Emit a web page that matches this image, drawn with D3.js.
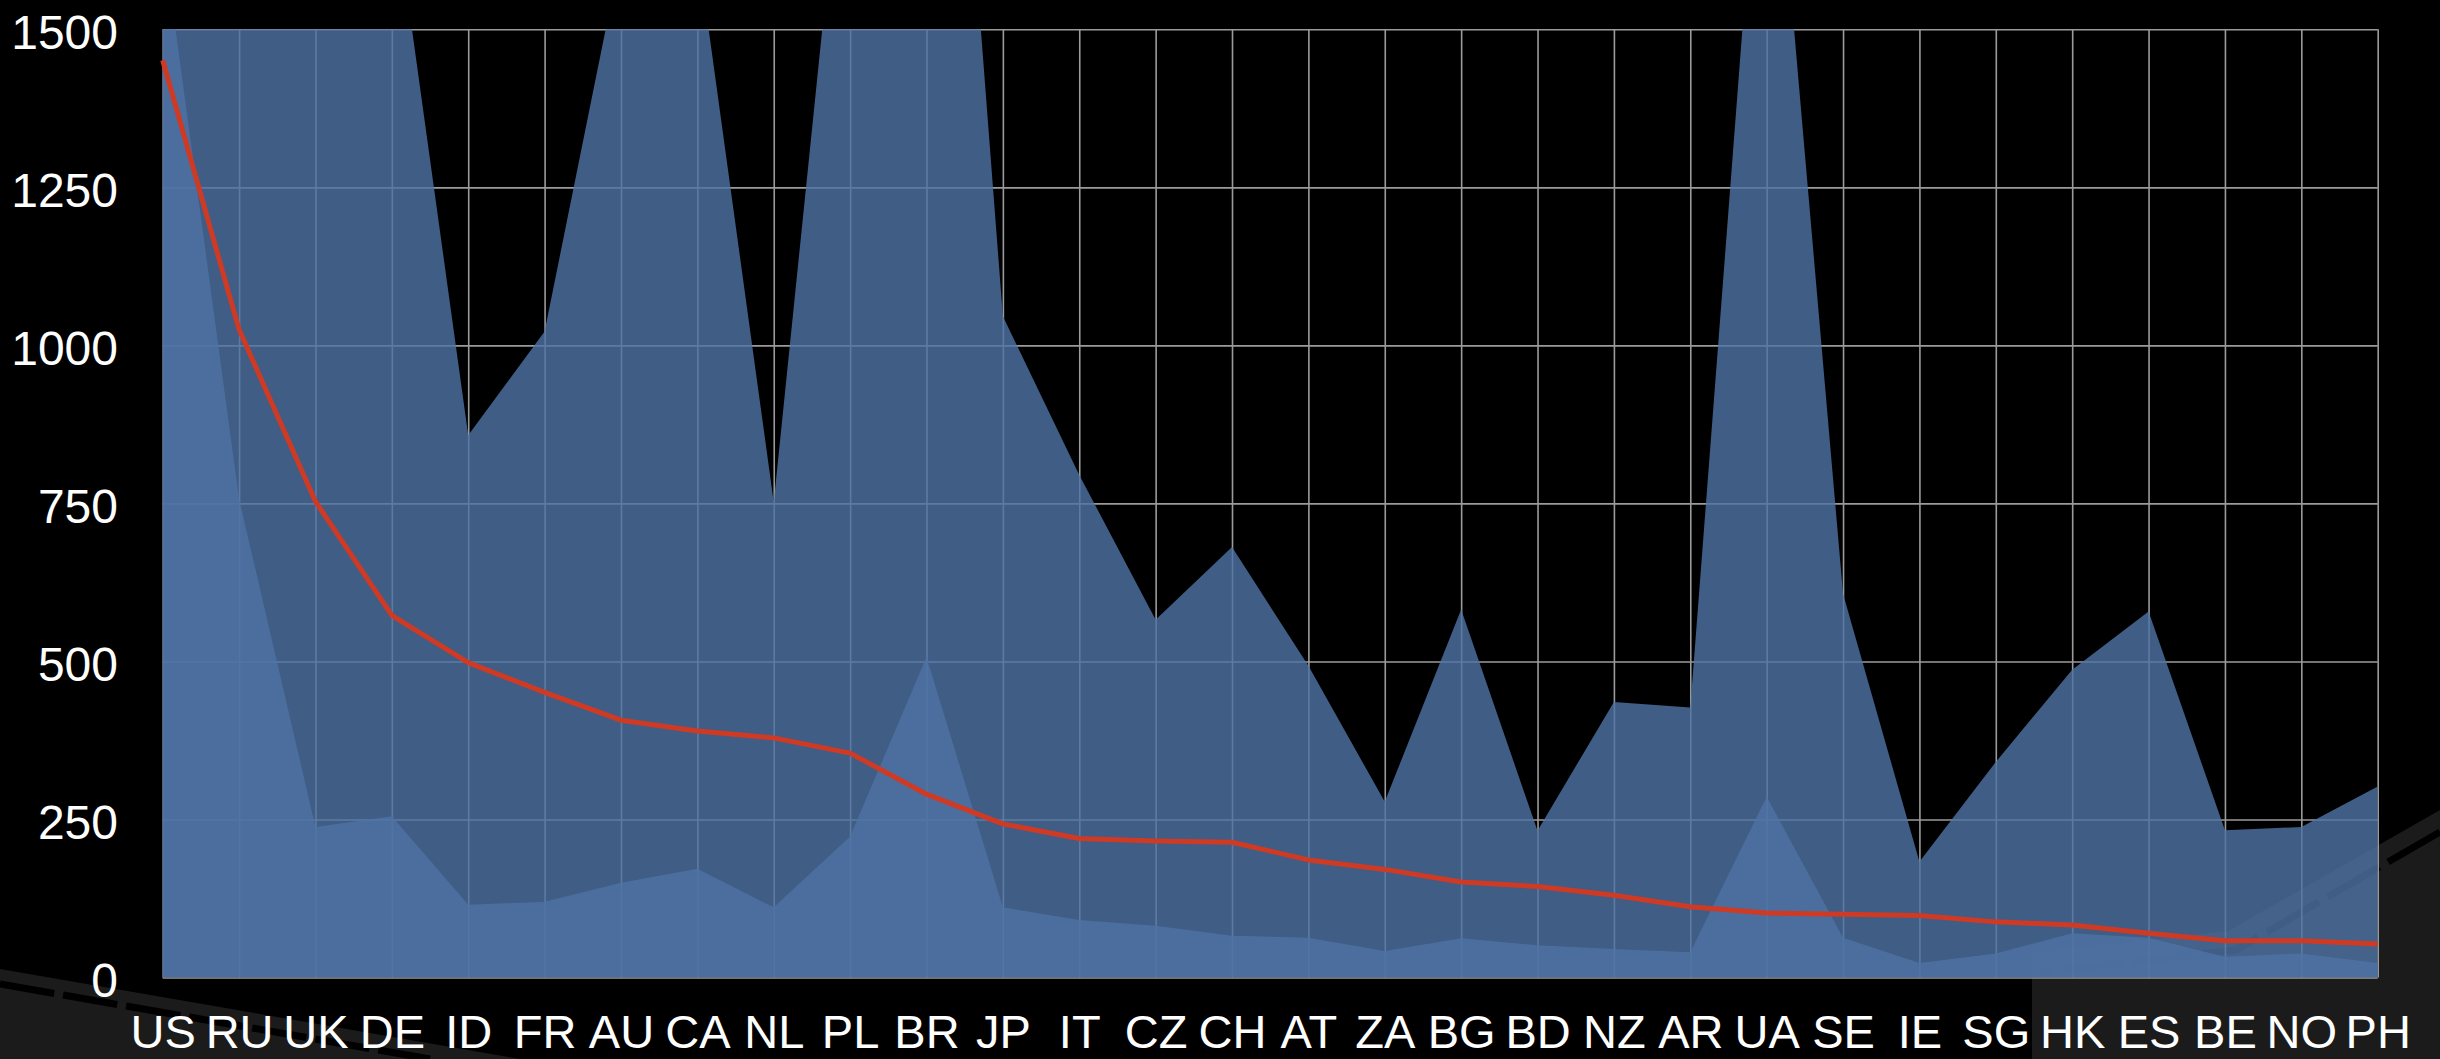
<!DOCTYPE html>
<html>
<head>
<meta charset="utf-8">
<script src="https://cdn.jsdelivr.net/npm/d3@7"></script>
<style>
  html, body { margin: 0; padding: 0; background: #000; }
  svg { display: block; }
</style>
</head>
<body>
<svg id="chart" width="2440" height="1059"></svg>
<script>
// country codes along the x axis
const countries = ["US","RU","UK","DE","ID","FR","AU","CA","NL","PL","BR","JP","IT","CZ","CH","AT",
    "ZA","BG","BD","NZ","AR","UA","SE","IE","SG","HK","ES","BE","NO","PH"];

// upper (wide) band, runs off the top for several countries
const upperBand = [2300, 1950, 1780, 1730, 858, 1022, 1620, 1630, 752, 1930, 2620, 1046, 795, 566, 681, 493,
    278, 582, 232, 436, 427, 2000, 607, 183, 341, 487, 579, 233, 238, 302];

// lower band
const lowerBand = [1650, 757, 238, 255, 115, 120, 150, 172, 111, 223, 507, 111, 91, 82, 66, 63,
    42, 62, 51, 45, 40, 286, 63, 23, 38, 70, 63, 33, 38, 23];

// red line
const lineValues = [1451, 1025, 753, 573, 498, 451, 407, 390, 379, 355, 290, 243, 220, 216, 214, 186,
    171, 151, 144, 130, 112, 102, 100, 98, 88, 83, 70, 58, 58, 53];

const yTicks = [0, 250, 500, 750, 1000, 1250, 1500];

const svg = d3.select("#chart"),
    margin = {top: 29.3, right: 62.3, bottom: 81.5, left: 162.7},
    width = 2440 - margin.left - margin.right,
    height = 1059 - margin.top - margin.bottom,
    font = "'Liberation Sans', Helvetica, Arial, sans-serif";

// background decoration (slide artwork)
const deco = svg.append("g").attr("class", "deco");
deco.append("path")
    .attr("d", "M0,969 L520,1059 L0,1059 Z")
    .style("fill", "#1b1b1b");
deco.append("path")
    .attr("d", "M0,984 L430,1059")
    .style("stroke", "#000").style("stroke-width", 7).style("stroke-dasharray", "55,9");
deco.append("path")
    .attr("d", "M2032,1059 L2032,953 L2228,931 L2440,810 L2440,1059 Z")
    .style("fill", "#1b1b1b");
deco.append("path")
    .attr("d", "M2440,832 L2236,950 L2040,972")
    .style("fill", "none").style("stroke", "#000").style("stroke-width", 7).style("stroke-dasharray", "60,10");

const chart = svg.append("g")
    .attr("transform", `translate(${margin.left},${margin.top})`);

const x = d3.scalePoint().domain(countries).range([0, width]),
    y = d3.scaleLinear().domain([0, 1500]).range([height, 0]);

// grid
chart.append("g")
    .attr("class", "grid-x")
    .attr("transform", `translate(0,${height})`)
    .call(d3.axisBottom(x).tickSize(-height).tickFormat(""))
    .call(g => g.select(".domain").remove());
chart.append("g")
    .attr("class", "grid-y")
    .call(d3.axisLeft(y).tickValues(yTicks).tickSize(-width).tickFormat(""))
    .call(g => g.select(".domain").remove());
chart.selectAll(".grid-x line, .grid-y line")
    .style("stroke", "#9b9b9b")
    .style("stroke-width", 1.6);

chart.append("clipPath")
        .attr("id", "plot-clip")
    .append("rect")
        .attr("width", width)
        .attr("height", height);

const area = d3.area()
    .x((d, i) => x(countries[i]))
    .y0(y(0))
    .y1(d => y(d));

const bands = chart.append("g").attr("clip-path", "url(#plot-clip)");
[upperBand, lowerBand].forEach(s => {
    bands.append("path")
        .datum(s)
        .attr("d", area)
        .style("fill", "#4d73a4")
        .style("fill-opacity", 0.81);
});

const line = d3.line()
    .x((d, i) => x(countries[i]))
    .y(d => y(d));

chart.append("path")
    .datum(lineValues)
    .attr("d", line)
    .style("fill", "none")
    .style("stroke", "#cf3a25")
    .style("stroke-width", 5)
    .style("stroke-linejoin", "round");

// axis labels
chart.append("g")
    .attr("class", "y-axis")
    .call(d3.axisLeft(y).tickValues(yTicks).tickFormat(d3.format("d")).tickSize(0).tickPadding(44.7))
    .call(g => g.select(".domain").remove())
    .selectAll("text")
        .attr("dy", "0.39em")
        .style("font-family", font)
        .style("font-size", "48px")
        .style("fill", "#fff");

chart.append("g")
    .attr("class", "x-axis")
    .attr("transform", `translate(0,${height})`)
    .call(d3.axisBottom(x).tickSize(0).tickPadding(37))
    .call(g => g.select(".domain").remove())
    .selectAll("text")
        .style("font-family", font)
        .style("font-size", "47px")
        .style("fill", "#fff");
</script>
</body>
</html>
